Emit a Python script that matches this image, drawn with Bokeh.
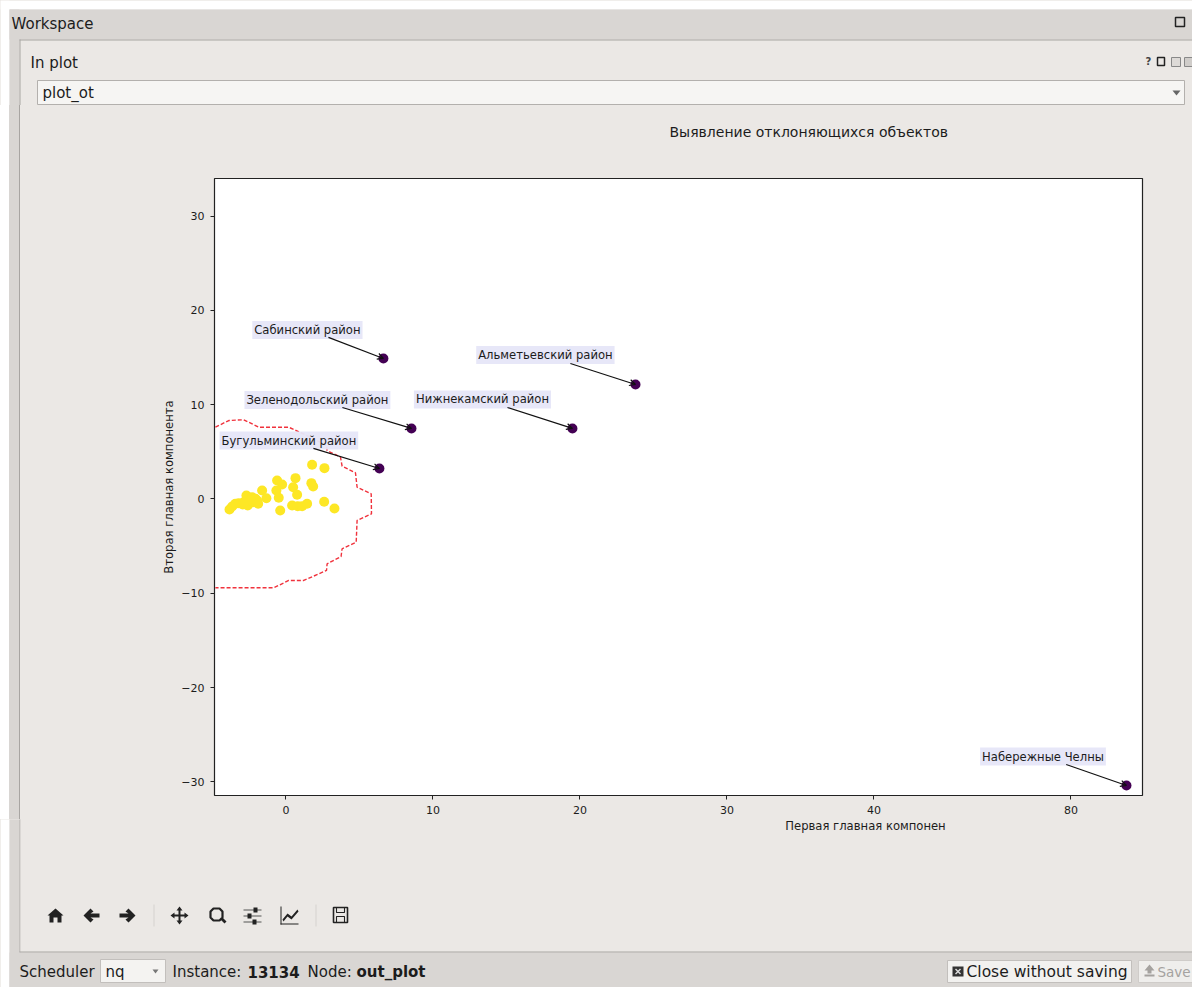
from bokeh.plotting import figure
from bokeh.layouts import column, row
from bokeh.models import (Label, Arrow, OpenHead, BoxAnnotation, PolyAnnotation, FixedTicker,
                          ColumnDataSource, Range1d, LinearAxis)
from bokeh.embed import file_html
from bokeh.resources import INLINE

# ---- data ----
x_ticks = [0, 10, 20, 30, 40, 53.4]
x_tick_labels = ["0", "10", "20", "30", "40", "80"]
y_ticks = [-30, -20, -10, 0, 10, 20, 30]

normal_x = [-3.84, -3.66, -3.44, -3.21, -2.94, -2.69, -2.64, -2.60, -2.30, -2.26, -2.07, -1.89,
            -1.62, -1.33, -1.96, -2.41, -2.87, -0.60, -0.26, -0.65, -0.49, 0.65, 0.49, 0.76,
            -0.39, 0.42, 0.80, 1.10, 1.44, 1.78, 2.62, 1.73, 1.85, 2.60, 3.30]
normal_y = [-1.11, -0.80, -0.51, -0.44, -0.58, 0.37, -0.34, -0.69, 0.19, -0.34, 0.02, -0.51,
            0.90, 0.08, -0.16, -0.16, -0.34, 1.96, 1.54, 0.90, 0.13, 2.21, 1.25, 0.44,
            -1.22, -0.69, -0.76, -0.76, -0.51, 3.62, 3.27, 1.68, 1.33, -0.30, -1.01]

outlier_names = ["Сабинский район", "Альметьевский район", "Зеленодольский район",
                 "Нижнекамский район", "Бугульминский район", "Набережные Челны"]
outlier_x = [6.63, 23.78, 8.54, 19.49, 6.36, 57.18]
outlier_y = [14.90, 12.14, 7.48, 7.48, 3.23, -30.38]
label_x = [1.46, 17.65, 2.14, 13.37, 0.20, 51.50]
label_y = [17.92, 15.27, 10.50, 10.55, 6.20, -27.31]
tail_x = [2.89, 19.35, 3.84, 15.07, 1.87, 53.08]
tail_y = [17.13, 14.37, 9.70, 9.70, 5.36, -28.15]

contour_x = [-4.80, -3.89, -2.87, -1.85, 0.19, 1.67, 2.76, 2.80, 3.71, 3.82, 4.73, 4.84, 5.80,
             5.82, 4.84, 4.78, 3.82, 3.75, 2.80, 2.76, 1.21, 0.19, -0.83, -4.80]
contour_y = [7.61, 8.32, 8.40, 7.61, 7.61, 6.55, 5.67, 5.14, 4.43, 3.48, 2.78, 1.25, 0.55,
             -1.57, -2.28, -4.58, -5.28, -6.10, -6.87, -7.58, -8.64, -8.64, -9.42, -9.42]

# ---- layout constants ----
W, H = 1192, 987
TOP_END = 105       # page y where the main figure starts
MAIN_END = 819      # page y where the main figure ends
LEFT_END = 20       # page x where the main figure starts
PANEL = "#ebe8e5"
BAR = "#d9d6d3"
EDGE = "#a8a5a2"
TEXT = "#1c1c1c"
FONT = "DejaVu Sans"


def chrome_figure(x0, x1, y0, y1):
    """Figure whose whole area is its frame, with data units equal to page pixels."""
    f = figure(width=x1 - x0, height=y1 - y0, output_backend="svg", toolbar_location=None,
               x_range=Range1d(x0, x1), y_range=Range1d(y1, y0),
               x_axis_location=None, y_axis_location=None,
               min_border=0, min_border_left=0, min_border_right=0, min_border_top=0, min_border_bottom=0)
    f.grid.visible = False
    f.outline_line_color = None
    f.background_fill_color = PANEL
    f.border_fill_color = PANEL
    return f


top = chrome_figure(0, W, 0, TOP_END)
left = chrome_figure(0, LEFT_END, TOP_END, MAIN_END)
bottom = chrome_figure(0, W, MAIN_END, H)
cur = top

# the left strip is only a painted background
left.background_fill_alpha = 0
left.border_fill_alpha = 0
left.styles = {"background": f"linear-gradient(to right, white 9px, {BAR} 9px, {BAR} 19px, {EDGE} 19px)"}


def box(l, t, r, b, fill, line=None, width=1):
    cur.add_layout(BoxAnnotation(left=l, right=r, top=t, bottom=b,
                                 fill_color=fill, fill_alpha=1 if fill else 0,
                                 line_color=line, line_width=width, line_alpha=1 if line else 0))


def text(x, y, s, size=15, style="normal", color=TEXT, align="left"):
    cur.add_layout(Label(x=x, y=y, text=s, text_font=FONT, text_font_size=f"{size}px",
                         text_font_style=style, text_color=color, text_align=align,
                         text_baseline="middle"))


def poly(ox, oy, pts, fill="#1a1a1a", line=None, width=1):
    cur.add_layout(PolyAnnotation(xs=[ox + a for a, b in pts], ys=[oy + b for a, b in pts],
                                  fill_color=fill, fill_alpha=1 if fill else 0,
                                  line_color=line, line_width=width, line_alpha=1 if line else 0))


# ---- top chrome ----
cur = top
box(0, 0, W, 9, "white")
box(0, 0, 9, TOP_END, "white")
box(9, 9, W, 39, BAR)
box(9, 9, 19, TOP_END, BAR)
box(19, 39, W, 40, EDGE)
box(19, 39, 20, TOP_END, EDGE)
text(11, 23, "Workspace", 15)
text(30, 62, "In plot", 15)
box(37, 80, 1184, 104, "#f6f5f3", "#b3b0ad")
text(42, 92, "plot_ot", 15)
poly(1176, 90, [(-4, 0), (4, 0), (0, 5)], "#666666")
box(1175, 17, 1184, 26, None, "#222222", 1.5)
text(1148, 61, "?", 10, "bold", "#444444", "center")
box(1157, 57, 1164, 65, None, "#222222", 1.5)
box(1171, 57, 1180, 66, "#dddad7", "#888888")
box(1184, 57, 1192, 66, "#d0cdca", "#888888")

# ---- bottom chrome ----
cur = bottom
box(0, MAIN_END - 1, 9, H, "white")
box(9, MAIN_END - 1, 19, H, BAR)
box(19, MAIN_END - 1, 20, 952, EDGE)
box(20, MAIN_END - 1, W, 952, PANEL)
box(9, 952, W, H, BAR)
box(19, 951, W, 952, EDGE)

IC = "#222222"
poly(55, 915, [(-8, 0), (0, -7), (8, 0), (6, 0), (6, 7), (2, 7), (2, 2), (-2, 2), (-2, 7), (-6, 7), (-6, 0)], IC)
poly(91, 915, [(-8, 0), (-1, -7), (2, -4), (-1, -2), (8, -2), (8, 2), (-1, 2), (2, 4), (-1, 7)], IC)
poly(127, 915, [(8, 0), (1, -7), (-2, -4), (1, -2), (-8, -2), (-8, 2), (1, 2), (-2, 4), (1, 7)], IC)
box(153, 904, 154, 926, "#d5d2cf")
poly(179, 915, [(0, -9), (3, -5), (1, -5), (1, -1), (5, -1), (5, -3), (9, 0), (5, 3), (5, 1), (1, 1), (1, 5),
                (3, 5), (0, 9), (-3, 5), (-1, 5), (-1, 1), (-5, 1), (-5, 3), (-9, 0), (-5, -3), (-5, -1),
                (-1, -1), (-1, -5), (-3, -5)], IC)
poly(216, 914, [(-3, -6), (3, -6), (6, -3), (6, 3), (3, 6), (-3, 6), (-6, 3), (-6, -3)], None, IC, 2.2)
poly(216, 914, [(4, 5), (6, 3), (10, 7), (8, 9)], IC)
for dy, dx in [(-6, 3), (0, -3), (6, 2)]:
    box(243, 915 + dy, 261, 916 + dy, "#555555")
    box(252 + dx - 2, 913 + dy, 252 + dx + 2, 918 + dy, IC)
box(280, 923, 298, 924, IC)
box(280, 906, 281, 924, IC)
poly(289, 915, [(-7, 4), (-2, -2), (2, 1), (8, -6), (9, -4), (2, 4), (-2, 1), (-6, 6)], IC)
box(315, 904, 316, 926, "#d5d2cf")
box(333, 907, 347, 922, None, IC, 1.6)
box(336, 907, 344, 912, None, IC, 1.1)
box(336, 916, 344, 922, None, IC, 1.1)

text(19, 971, "Scheduler", 15)
box(100, 959, 165, 982, "#f4f3f1", "#c2bfbc")
text(105, 971, "nq", 15)
poly(155, 969, [(-3, 0), (3, 0), (0, 4)], "#777777")
text(172, 971, "Instance:", 15)
text(247, 971, "13134", 15, "bold")
text(307, 971, "Node:", 15)
text(356, 971, "out_plot", 15, "bold")
box(947, 960, 1131, 982, "#f2f1ef", "#c2bfbc")
box(952, 966, 963, 976, "#333333")
poly(957.5, 971, [(-3, -2), (-2, -3), (3, 2), (2, 3)], "#dddddd")
poly(957.5, 971, [(3, -2), (2, -3), (-3, 2), (-2, 3)], "#dddddd")
text(966, 971, "Close without saving", 15.5)
box(1138, 960, W, 982, "#efeeec", "#cfccc9")
poly(1149, 970, [(-5, 0), (0, -6), (5, 0), (2, 0), (2, 3), (-2, 3), (-2, 0)], "#a5a29f")
box(1144, 974, 1154, 976, "#a5a29f")
text(1157, 971, "Save", 13.5, color="#a5a29f")

# the x axis label sits off-centre in the reference
text(865, 825, "Первая главная компонен", 11.6, align="center")

# ---- main figure ----
p = figure(width=W - LEFT_END, height=MAIN_END - TOP_END, output_backend="svg", toolbar_location=None,
           x_range=Range1d(-4.86, 58.27), y_range=Range1d(-31.44, 33.98),
           title="Выявление отклоняющихся объектов")
p.min_border_left = 214 - LEFT_END
p.min_border_right = W - 1142
p.min_border_top = 178 - TOP_END
p.min_border_bottom = MAIN_END - 795
p.border_fill_color = PANEL
p.background_fill_color = "white"
p.outline_line_color = "#222222"
p.outline_line_width = 1.2
p.grid.visible = False

p.title.align = "left"
p.title.offset = 455
p.title.text_font = FONT
p.title.text_font_style = "normal"
p.title.text_font_size = "14px"
p.title.text_color = TEXT

xaxis = p.below[0]
yaxis = p.left[0]

# invisible axis between frame and title: it only lifts the title
spacer = LinearAxis(ticker=FixedTicker(ticks=[0]), axis_line_color=None, major_tick_line_color=None,
                    minor_tick_line_color=None, major_tick_out=34, major_tick_in=0,
                    major_label_text_color=None, major_label_overrides={0: ""})
p.add_layout(spacer, "above")

xaxis.ticker = FixedTicker(ticks=x_ticks)
xaxis.major_label_overrides = dict(zip(x_ticks, x_tick_labels))
yaxis.ticker = FixedTicker(ticks=y_ticks)
yaxis.major_label_overrides = {v: str(v).replace("-", "\u2212") for v in y_ticks}
yaxis.axis_label = "Вторая главная компонента"
yaxis.axis_label_standoff = 2
for ax in (xaxis, yaxis):
    ax.axis_line_color = None
    ax.minor_tick_line_color = None
    ax.major_tick_line_color = "#222222"
    ax.major_tick_in = 0
    ax.major_tick_out = 4
    ax.major_label_text_font = FONT
    ax.major_label_text_font_size = "11px"
    ax.major_label_text_color = TEXT
    ax.major_label_standoff = 6
    ax.axis_label_text_font = FONT
    ax.axis_label_text_font_size = "11.6px"
    ax.axis_label_text_font_style = "normal"
    ax.axis_label_text_color = TEXT
yaxis.major_label_orientation = "horizontal"

# ---- data marks ----
src_c = ColumnDataSource(data=dict(x=contour_x, y=contour_y))
p.line("x", "y", source=src_c, line_color="#f0323c", line_width=1.4, line_dash="4 2")

src_n = ColumnDataSource(data=dict(x=normal_x, y=normal_y))
p.scatter("x", "y", source=src_n, size=10, fill_color="#fde725", line_color="#fde725", line_width=0)

src_o = ColumnDataSource(data=dict(x=outlier_x, y=outlier_y))
p.scatter("x", "y", source=src_o, size=10, fill_color="#440154", line_color="#440154", line_width=0)

for name, lx, ly, tx, ty, ox, oy in zip(outlier_names, label_x, label_y, tail_x, tail_y, outlier_x, outlier_y):
    p.add_layout(Label(x=lx, y=ly, text=name, text_font=FONT, text_font_size="11.6px", text_color=TEXT,
                       text_align="center", text_baseline="middle",
                       background_fill_color="#e6e6f8", background_fill_alpha=0.95, padding=2))
    p.add_layout(Arrow(x_start=tx, y_start=ty, x_end=ox, y_end=oy, line_color="#111111", line_width=1.2,
                       end=OpenHead(size=6, line_color="#111111", line_width=1.2)))

page = column(top, row(left, p, spacing=0), bottom, spacing=0)
page.styles = {"background": PANEL}
open("out.html", "w").write(file_html(page, INLINE))
